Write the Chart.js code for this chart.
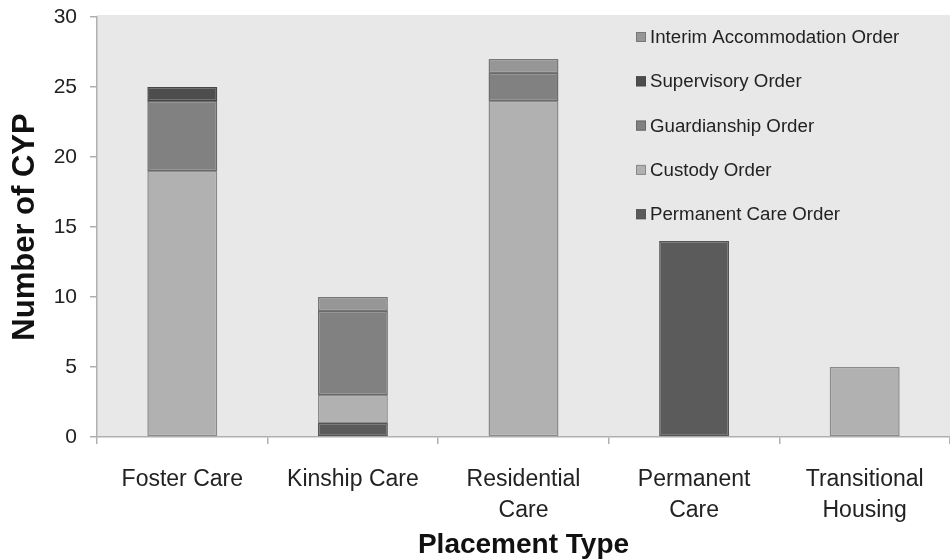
<!DOCTYPE html>
<html>
<head>
<meta charset="utf-8">
<script src="https://cdn.jsdelivr.net/npm/chart.js@4.4.1/dist/chart.umd.min.js"></script>
<style>
html,body{margin:0;padding:0;background:#fff;}
#wrap{width:950px;height:559px;position:relative;}
</style>
</head>
<body>
<div id="wrap"><canvas id="c" width="950" height="559"></canvas></div>
<script>
const categories = [['Foster Care'], ['Kinship Care'], ['Residential', 'Care'], ['Permanent', 'Care'], ['Transitional', 'Housing']];
const permanentCareOrder = [null, 1, null, 14, null];
const custodyOrder = [19, 2, 24, null, 5];
const guardianshipOrder = [5, 6, 2, null, null];
const supervisoryOrder = [1, null, null, null, null];
const interimAccommodationOrder = [null, 1, 1, null, null];
const yTicks = [0, 5, 10, 15, 20, 25, 30];

const FONT = '"Liberation Sans", Arial, sans-serif';

const bgPlugin = {
  id: 'bg',
  beforeDraw(chart) {
    const {ctx, chartArea: a} = chart;
    ctx.save();
    ctx.fillStyle = '#e8e8e8';
    ctx.fillRect(a.left, a.top - 2, a.right - a.left, a.bottom - a.top + 2);
    ctx.restore();
  }
};

const legendPlugin = {
  id: 'customLegend',
  afterDraw(chart) {
    const ctx = chart.ctx;
    const ds = chart.data.datasets.slice().reverse();
    ctx.save();
    ctx.font = '18.7px ' + FONT;
    ctx.textBaseline = 'middle';
    ds.forEach((d, i) => {
      const y = 37 + i * 44.3;
      ctx.fillStyle = d.backgroundColor;
      ctx.fillRect(636, y - 5, 10, 10);
      ctx.strokeStyle = d.borderColor;
      ctx.lineWidth = 1;
      ctx.strokeRect(636.5, y - 4.5, 9, 9);
      ctx.fillStyle = '#222';
      ctx.fillText(d.label, 650, y + 1);
    });
    ctx.restore();
  }
};

const mk = (label, data, bg, border) => ({
  label, data, backgroundColor: bg, borderColor: border, borderWidth: 1.5,
  borderSkipped: false, stack: 's'
});

new Chart(document.getElementById('c'), {
  type: 'bar',
  data: {
    labels: categories,
    datasets: [
      mk('Permanent Care Order', permanentCareOrder, '#5b5b5b', '#555555'),
      mk('Custody Order', custodyOrder, '#b1b1b1', '#8a8a8a'),
      mk('Guardianship Order', guardianshipOrder, '#818181', '#6a6a6a'),
      mk('Supervisory Order', supervisoryOrder, '#4d4d4d', '#474747'),
      mk('Interim Accommodation Order', interimAccommodationOrder, '#969696', '#777777')
    ]
  },
  options: {
    responsive: false,
    animation: false,
    devicePixelRatio: 1,
    layout: { padding: { top: 17, right: 0, left: 0, bottom: 0 } },
    datasets: { bar: { categoryPercentage: 1, barPercentage: 0.41 } },
    plugins: { legend: { display: false }, tooltip: { enabled: false } },
    scales: {
      x: {
        stacked: true,
        border: { color: '#b0b0b0', width: 1.5 },
        grid: { offset: true, drawOnChartArea: false, drawTicks: true, tickLength: 7, color: '#b0b0b0', lineWidth: 1.5 },
        ticks: { color: '#222', font: { family: FONT, size: 23, lineHeight: 1.35 }, padding: 20, maxRotation: 0, autoSkip: false },
        title: { display: true, text: 'Placement Type', color: '#111', font: { family: FONT, size: 28, weight: 'bold', lineHeight: 1.0 }, padding: { top: 0, bottom: 0 } },
        afterFit(s) { s.height = 122; s.paddingLeft = 0; s.paddingRight = 0; }
      },
      y: {
        stacked: true,
        min: 0, max: 30,
        afterBuildTicks(s) { s.ticks = yTicks.map(v => ({ value: v })); },
        border: { color: '#b0b0b0', width: 1.5 },
        grid: { drawOnChartArea: false, drawTicks: true, tickLength: 7, color: '#b0b0b0', lineWidth: 1.5 },
        ticks: { color: '#222', font: { family: FONT, size: 21 }, padding: 13 },
        title: { display: true, text: 'Number of CYP', color: '#111', font: { family: FONT, size: 31, weight: 'bold' }, padding: { top: 7, bottom: 0 } },
        afterFit(s) { s.width = 97; s.paddingTop = 0; s.paddingBottom = 0; }
      }
    }
  },
  plugins: [bgPlugin, legendPlugin]
});
</script>
</body>
</html>
